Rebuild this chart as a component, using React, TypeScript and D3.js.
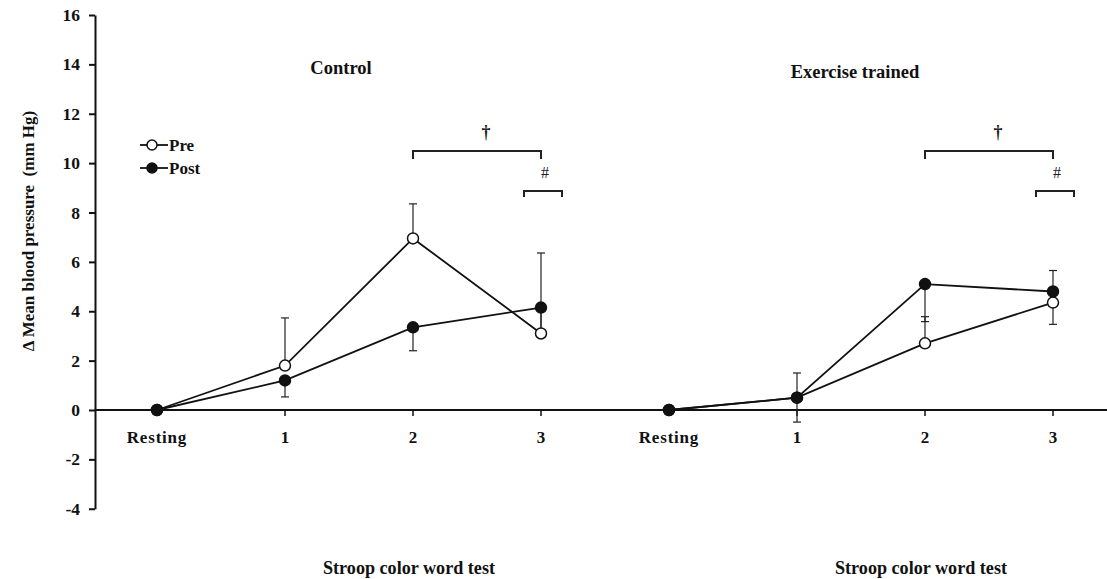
import React, { useEffect, useRef } from "react";
import * as d3 from "d3";

// ---- data ----
const stages = ["Resting", "1", "2", "3"];
const groups = ["Control", "Exercise trained"];
const controlPre = [0, 1.8, 6.95, 3.1];
const controlPost = [0, 1.2, 3.35, 4.15];
const exercisePre = [0, 0.5, 2.7, 4.35];
const exercisePost = [0, 0.5, 5.1, 4.8];
// standard errors (Pre drawn upward, Post drawn downward); null = none
const controlPreErr = [null, 1.93, 1.4, 3.26];
const controlPostErr = [null, 0.67, 0.95, 0.95];
const exercisePreErr = [null, 1.0, 1.08, 1.3];
const exercisePostErr = [null, 0.99, 1.52, 1.33];
const yTicks = [-4, -2, 0, 2, 4, 6, 8, 10, 12, 14, 16];
const yLabel = "Δ Mean blood pressure\u00a0 (mm Hg)";
const xLabel = "Stroop color word test";
const legendLabels = ["Pre", "Post"];
// significance brackets: [group, fromStage, toStage, symbol, level]
const brackets: [number, number, number, string, number][] = [
  [0, 2, 3, "†", 0],
  [1, 2, 3, "†", 0],
  [0, 3, 3, "#", 1],
  [1, 3, 3, "#", 1],
];

const W = 1107;
const H = 579;
const FONT = "'Liberation Serif', 'Times New Roman', serif";

export default function App() {
  const ref = useRef<SVGSVGElement>(null);

  useEffect(() => {
    const svg = d3.select(ref.current);
    svg.selectAll("*").remove();

    const keys: string[] = [];
    groups.forEach((g, gi) => stages.forEach((s) => keys.push(gi + "-" + s)));
    const x = d3.scalePoint<string>().domain(keys).range([157, 1053]);
    const y = d3.scaleLinear().domain([-4, 16]).range([508.75, 15]);
    const axisX = 95;

    // y axis
    const yAxis = d3
      .axisLeft(y)
      .tickValues(yTicks)
      .tickSize(6)
      .tickSizeOuter(0)
      .tickPadding(9)
      .tickFormat((d) => String(d));
    const gy = svg.append("g").attr("transform", `translate(${axisX},0)`).call(yAxis);
    gy.select(".domain").attr("stroke", "#111").attr("stroke-width", 2);
    gy.selectAll(".tick line").attr("stroke", "#111").attr("stroke-width", 2);
    gy.selectAll(".tick text")
      .attr("font-family", FONT)
      .attr("font-weight", "bold")
      .attr("font-size", 17.5)
      .attr("fill", "#111");

    // x axis line at 0
    svg
      .append("line")
      .attr("x1", axisX)
      .attr("x2", W)
      .attr("y1", y(0))
      .attr("y2", y(0))
      .attr("stroke", "#111")
      .attr("stroke-width", 2);
    keys.forEach((k, i) => {
      svg
        .append("line")
        .attr("x1", x(k)!)
        .attr("x2", x(k)!)
        .attr("y1", y(0))
        .attr("y2", y(0) + 6)
        .attr("stroke", "#111")
        .attr("stroke-width", 1.5);
      svg
        .append("text")
        .attr("x", x(k)!)
        .attr("y", y(0) + 33)
        .attr("text-anchor", "middle")
        .attr("font-family", FONT)
        .attr("font-weight", "bold")
        .attr("font-size", 17)
        .attr("letter-spacing", stages[i % 4] === "Resting" ? 0.8 : 0)
        .attr("fill", "#111")
        .text(stages[i % 4]);
    });

    // y label
    svg
      .append("text")
      .attr("transform", `translate(34,${231}) rotate(-90)`)
      .attr("text-anchor", "middle")
      .attr("font-family", FONT)
      .attr("font-weight", "bold")
      .attr("font-size", 17)
      .attr("fill", "#111")
      .text(yLabel);

    // group titles & x labels
    const titleX = [341, 855];
    groups.forEach((g, gi) => {
      svg
        .append("text")
        .attr("x", titleX[gi])
        .attr("y", gi === 0 ? 74 : 78)
        .attr("text-anchor", "middle")
        .attr("font-family", FONT)
        .attr("font-weight", "bold")
        .attr("font-size", 18.5)
        .attr("fill", "#111")
        .text(g);
      const left = x(gi + "-" + stages[1])! + 38;
      svg
        .append("text")
        .attr("x", left)
        .attr("y", 574)
        .attr("font-family", FONT)
        .attr("font-weight", "bold")
        .attr("font-size", 18)
        .attr("textLength", 172)
        .attr("lengthAdjust", "spacingAndGlyphs")
        .attr("fill", "#111")
        .text(xLabel);
    });

    // series
    const series = [
      { g: 0, vals: controlPre, err: controlPreErr, filled: false, dir: 1 },
      { g: 0, vals: controlPost, err: controlPostErr, filled: true, dir: -1 },
      { g: 1, vals: exercisePre, err: exercisePreErr, filled: false, dir: 1 },
      { g: 1, vals: exercisePost, err: exercisePostErr, filled: true, dir: -1 },
    ];

    // error bars first
    series.forEach((s) => {
      s.vals.forEach((v, i) => {
        const e = s.err[i];
        if (e == null) return;
        const cx = x(s.g + "-" + stages[i])!;
        const end = v + s.dir * e;
        svg
          .append("line")
          .attr("x1", cx)
          .attr("x2", cx)
          .attr("y1", y(v))
          .attr("y2", y(end))
          .attr("stroke", "#222")
          .attr("stroke-width", 1.2);
        svg
          .append("line")
          .attr("x1", cx - 4)
          .attr("x2", cx + 4)
          .attr("y1", y(end))
          .attr("y2", y(end))
          .attr("stroke", "#222")
          .attr("stroke-width", 1.2);
      });
    });

    series.forEach((s) => {
      const l = d3
        .line<number>()
        .x((_, i) => x(s.g + "-" + stages[i])!)
        .y((d) => y(d));
      svg
        .append("path")
        .attr("d", l(s.vals)!)
        .attr("fill", "none")
        .attr("stroke", "#111")
        .attr("stroke-width", 1.8);
    });
    // markers
    series.forEach((s) => {
      s.vals.forEach((v, i) => {
        svg
          .append("circle")
          .attr("cx", x(s.g + "-" + stages[i])!)
          .attr("cy", y(v))
          .attr("r", 5.5)
          .attr("fill", s.filled ? "#111" : "#fff")
          .attr("stroke", "#111")
          .attr("stroke-width", 1.5);
      });
    });

    // brackets
    brackets.forEach(([g, a, b, sym, lvl]) => {
      let x1 = x(g + "-" + stages[a])!;
      let x2 = x(g + "-" + stages[b])!;
      let yy = 151;
      let drop = 8;
      if (lvl === 1) {
        x1 = x2 - 17;
        x2 = x2 + 21;
        yy = 191;
        drop = 6;
      }
      svg
        .append("path")
        .attr("d", `M${x1},${yy + drop}V${yy}H${x2}V${yy + drop}`)
        .attr("fill", "none")
        .attr("stroke", "#222")
        .attr("stroke-width", 2);
      svg
        .append("text")
        .attr("x", lvl === 0 ? (x1 + x2) / 2 + 9 : (x1 + x2) / 2 + 2)
        .attr("y", yy - 13)
        .attr("text-anchor", "middle")
        .attr("font-family", FONT)
        .attr("font-weight", lvl === 0 ? "bold" : "normal")
        .attr("font-size", lvl === 0 ? 18 : 16)
        .attr("fill", "#222")
        .text(sym);
    });

    // legend
    legendLabels.forEach((lab, i) => {
      const ly = 145 + i * 23;
      svg
        .append("line")
        .attr("x1", 140)
        .attr("x2", 168)
        .attr("y1", ly)
        .attr("y2", ly)
        .attr("stroke", "#111")
        .attr("stroke-width", 1.8);
      svg
        .append("circle")
        .attr("cx", 152)
        .attr("cy", ly)
        .attr("r", 5)
        .attr("fill", i === 0 ? "#fff" : "#111")
        .attr("stroke", "#111")
        .attr("stroke-width", 1.5);
      svg
        .append("text")
        .attr("x", 169)
        .attr("y", ly + 5.5)
        .attr("font-family", FONT)
        .attr("font-weight", "bold")
        .attr("font-size", 17)
        .attr("fill", "#111")
        .text(lab);
    });
  }, []);

  return (
    <svg
      ref={ref}
      width={W}
      height={H}
      style={{ position: "absolute", left: 0, top: 0, background: "#fff" }}
    />
  );
}
